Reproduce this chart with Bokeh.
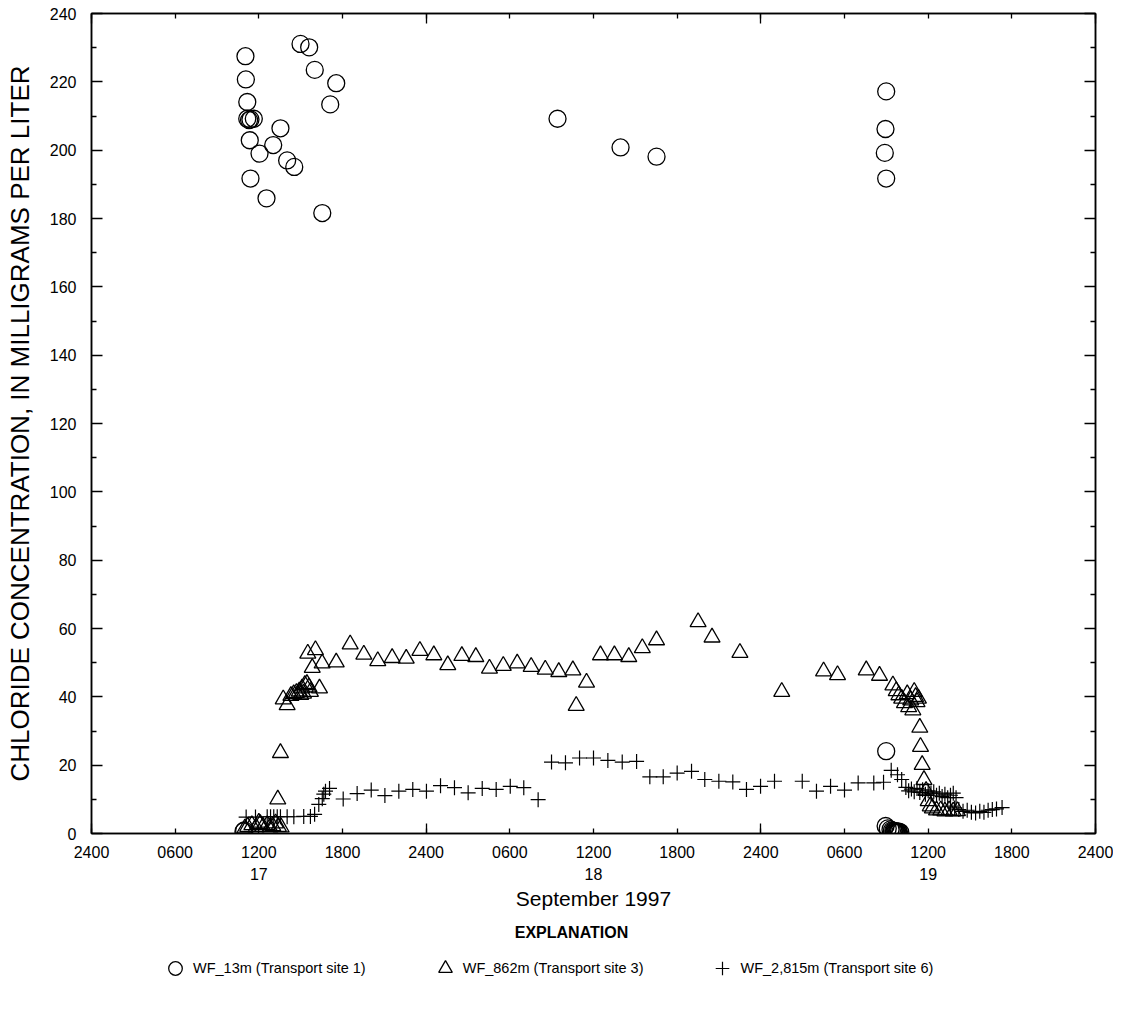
from bokeh.plotting import figure
from bokeh.layouts import column
from bokeh.models import (LinearAxis, FixedTicker, Legend, LegendItem, Label, Range1d,
                          ColumnDataSource)
from bokeh.embed import file_html
from bokeh.resources import INLINE

FONT = "Liberation Sans"

# ---------------- axis definitions ----------------
x_ticks = [0, 6, 12, 18, 24, 30, 36, 42, 48, 54, 60, 66, 72]
x_tick_labels = ["2400", "0600", "1200", "1800", "2400", "0600", "1200",
                 "1800", "2400", "0600", "1200", "1800", "2400"]
midnight_ticks = [0, 24, 48, 72]
day_ticks = [12, 36, 60]
day_labels = ["17", "18", "19"]
y_major = list(range(0, 241, 20))
y_minor = list(range(10, 240, 20))

# ---------------- data (hours after 0000 17 Sept, mg/L) ----------------
site1_hours = [14.99, 15.61, 11.04, 16.01, 11.07, 17.55, 11.17, 17.12, 11.17, 11.30,
               11.40, 11.64, 33.42, 13.55, 11.35, 13.03, 12.05, 14.03, 14.54, 11.40,
               12.55, 16.55, 37.94, 40.52, 56.99, 56.94, 56.89, 56.99, 56.99, 10.90,
               10.95, 56.95, 57.10, 57.30, 57.40, 57.50, 57.55, 57.60, 57.65, 57.70,
               57.75, 57.80, 57.85, 57.90, 58.00]
site1_chloride = [231.1, 230.1, 227.5, 223.5, 220.7, 219.6, 214.1, 213.4, 209.2, 208.8,
                  209.0, 209.2, 209.2, 206.4, 202.9, 201.5, 199.0, 197.0, 195.1, 191.7,
                  185.9, 181.6, 200.8, 198.1, 217.2, 206.2, 199.2, 191.7, 24.1, 0.6,
                  0.9, 2.2, 1.5, 1.2, 0.9, 0.8, 0.6, 0.7, 0.5, 0.6,
                  0.5, 0.4, 0.6, 0.5, 0.4]

site3_hours = [11.0, 11.2, 11.5, 11.8, 12.0, 12.1, 12.3, 12.6, 12.8, 13.0, 13.2, 13.4, 13.6,
               13.36, 13.55, 13.75, 14.03,
               14.3, 14.5, 14.7, 14.9, 15.0, 15.1, 15.2, 15.3, 15.45, 15.6, 15.7,
               15.51, 16.06, 15.83, 16.35, 16.54, 17.55, 18.55, 19.53, 20.53, 21.56,
               22.57, 23.55, 24.55, 25.55, 26.56, 27.56, 28.54, 29.53, 30.53, 31.53,
               32.54, 33.51, 34.52, 34.76, 35.5, 36.5, 37.5, 38.53, 39.5, 40.52,
               43.5, 44.5, 46.5, 49.5, 52.5, 53.5, 55.56, 56.51, 57.47, 57.71,
               57.9, 58.1, 58.3, 58.5, 58.6, 58.75, 58.9, 59.0, 59.1, 59.2, 59.3,
               59.4, 59.45, 59.57, 59.7, 59.85, 60.0, 60.15, 60.3, 60.6, 60.9, 61.2,
               61.5, 61.8, 62.1]
site3_chloride = [1.5, 2.0, 2.5, 1.8, 3.2, 2.8, 2.0, 2.5, 1.8, 2.2, 3.0, 2.0, 1.8,
                  10.0, 23.6, 39.3, 37.6,
                  40.3, 40.8, 41.2, 41.6, 40.6, 42.5, 41.0, 43.5, 43.8, 42.8, 41.5,
                  52.7, 53.7, 48.5, 42.5, 49.8, 50.1, 55.4, 52.4, 50.5, 51.4,
                  51.2, 53.5, 52.2, 49.3, 52.0, 51.7, 48.3, 49.1, 49.8, 48.8,
                  48.0, 47.3, 47.8, 37.4, 44.2, 52.2, 52.2, 51.7, 54.3, 56.6,
                  61.9, 57.4, 52.9, 41.5, 47.5, 46.4, 47.8, 46.2, 43.4, 41.7,
                  40.5, 39.5, 38.2, 40.8, 37.0, 39.0, 36.1, 41.5, 40.0, 38.5, 39.5,
                  31.0, 25.4, 20.1, 15.7, 12.5, 9.5, 8.0, 7.4, 6.8, 6.8, 6.5,
                  6.8, 6.5, 6.6]

site6_hours = [11.09, 11.76, 12.6, 12.84, 13.07, 13.32, 13.55, 14.03, 14.51, 15.22, 15.7,
               16.0, 16.3, 16.55, 16.66, 16.78, 17.07,
               18.05, 19.05, 20.06, 21.04, 22.04, 23.04, 24.02, 25.03, 26.03, 27.01,
               28.02, 29.02, 30.03, 31.0, 32.03, 32.99, 33.99, 35.0, 36.0, 37.03,
               38.06, 39.09, 40.04, 41.0, 42.0, 43.03, 43.98, 44.99, 45.99, 46.97,
               47.98, 48.98, 50.97, 51.99, 53.0, 54.0, 54.98, 56.1, 56.8, 57.35,
               57.8, 58.1,
               58.4, 58.6, 58.8, 59.0, 59.2, 59.4, 59.6, 59.8, 60.0, 60.2, 60.4, 60.6,
               60.8, 61.0, 61.2, 61.4, 61.6, 61.8, 62.0,
               61.6, 61.9, 62.2, 62.5, 62.8, 63.1, 63.4, 63.7, 64.0, 64.3, 64.6, 64.9,
               65.3]
site6_chloride = [4.8, 4.8, 4.9, 4.9, 4.9, 4.9, 4.9, 4.9, 4.9, 5.0, 5.0,
                  5.6, 8.5, 10.2, 11.5, 12.4, 13.2,
                  10.1, 11.7, 12.7, 11.1, 12.4, 12.9, 12.4, 14.0, 13.4, 11.9,
                  13.2, 12.9, 13.8, 13.4, 9.9, 20.9, 20.7, 22.1, 22.1, 21.4,
                  20.9, 21.1, 16.6, 16.6, 17.7, 18.2, 15.8, 15.3, 15.1, 12.9,
                  13.8, 15.3, 15.3, 12.4, 13.8, 12.7, 14.8, 14.8, 15.0, 18.5,
                  17.2, 15.8,
                  13.5, 12.5, 13.0, 12.2, 13.2, 12.0, 12.8, 11.5, 12.5, 11.8, 12.2, 11.2,
                  11.8, 10.8, 11.5, 10.5, 11.2, 11.8, 10.5,
                  8.0, 7.5, 7.0, 6.5, 6.8, 6.2, 6.0, 6.5, 6.2, 6.8, 7.0, 7.2,
                  7.6]

series_labels = ["WF_13m (Transport site 1)", "WF_862m (Transport site 3)",
                 "WF_2,815m (Transport site 6)"]
legend_title = "EXPLANATION"

# ---------------- main figure ----------------
p = figure(width=1113, height=912, x_range=Range1d(0, 72), y_range=Range1d(0, 240),
           output_backend="svg", toolbar_location=None,
           x_axis_type=None, y_axis_type=None,
           min_border_left=91, min_border_right=18, min_border_top=13,
           min_border_bottom=78)
p.outline_line_color = "black"
p.outline_line_width = 1.5
p.background_fill_color = "white"
p.border_fill_color = "white"


def tick_axis(ticker, tick_in=10):
    # axis carrying only tick marks (labels not drawn)
    return LinearAxis(ticker=ticker, major_tick_in=tick_in, major_tick_out=0,
                      minor_tick_in=5, minor_tick_out=0,
                      major_tick_line_width=1.3, minor_tick_line_width=1.3,
                      major_label_text_font_size="1px", major_label_text_color=None,
                      major_label_standoff=0,
                      axis_line_color="black", axis_line_width=1.5)


# bottom ticks (long at midnight, short every 6 hours)
p.add_layout(tick_axis(FixedTicker(ticks=midnight_ticks, minor_ticks=x_ticks)), "below")
# bottom hour labels
hour_axis = LinearAxis(ticker=FixedTicker(ticks=x_ticks, minor_ticks=[]),
                       major_tick_in=0, major_tick_out=0, minor_tick_in=0, minor_tick_out=0,
                       axis_line_color=None,
                       major_label_overrides={t: l for t, l in zip(x_ticks, x_tick_labels)},
                       major_label_standoff=12,
                       major_label_text_font=FONT, major_label_text_font_size="16px",
                       major_label_text_color="black")
p.add_layout(hour_axis, "below")
# day labels + axis title
day_axis = LinearAxis(ticker=FixedTicker(ticks=day_ticks, minor_ticks=[]),
                      major_tick_in=0, major_tick_out=0, minor_tick_in=0, minor_tick_out=0,
                      axis_line_color=None,
                      major_label_overrides={t: l for t, l in zip(day_ticks, day_labels)},
                      major_label_standoff=7,
                      major_label_text_font=FONT, major_label_text_font_size="16px",
                      major_label_text_color="black",
                      axis_label="September 1997", axis_label_standoff=4,
                      axis_label_text_font=FONT, axis_label_text_font_size="21px",
                      axis_label_text_font_style="normal", axis_label_text_color="black")
p.add_layout(day_axis, "below")
# top ticks
p.add_layout(tick_axis(FixedTicker(ticks=midnight_ticks, minor_ticks=x_ticks)), "above")

# y axes
left_axis = LinearAxis(ticker=FixedTicker(ticks=y_major, minor_ticks=y_minor),
                       major_tick_in=11, major_tick_out=0, minor_tick_in=5, minor_tick_out=0,
                       major_tick_line_width=1.3, minor_tick_line_width=1.3,
                       axis_line_color="black", axis_line_width=1.5,
                       major_label_standoff=15,
                       major_label_text_font=FONT, major_label_text_font_size="16px",
                       major_label_text_color="black",
                       axis_label="CHLORIDE CONCENTRATION, IN MILLIGRAMS PER LITER",
                       axis_label_standoff=12,
                       axis_label_text_font=FONT, axis_label_text_font_size="26px",
                       axis_label_text_font_style="normal", axis_label_text_color="black")
p.add_layout(left_axis, "left")
p.add_layout(tick_axis(FixedTicker(ticks=y_major, minor_ticks=y_minor), tick_in=11), "right")

# ---------------- data glyphs ----------------
s1 = ColumnDataSource(dict(x=site1_hours, y=site1_chloride))
s3 = ColumnDataSource(dict(x=site3_hours, y=site3_chloride))
s6 = ColumnDataSource(dict(x=site6_hours, y=site6_chloride))
sources = [s1, s3, s6]

marker_styles = [dict(marker="circle", size=17, line_width=1.3),
                 dict(marker="triangle", size=16, line_width=1.3),
                 dict(marker="cross", size=15, line_width=1.2)]

for src, st in zip(sources, marker_styles):
    p.scatter("x", "y", source=src, fill_color=None, line_color="black", **st)

# ---------------- explanation strip below the chart ----------------
q = figure(width=1113, height=90, x_range=Range1d(0, 72), y_range=Range1d(0, 240),
           output_backend="svg", toolbar_location=None,
           x_axis_type=None, y_axis_type=None,
           min_border_left=91, min_border_right=18, min_border_top=0,
           min_border_bottom=0)
q.outline_line_color = None
q.background_fill_color = "white"
q.border_fill_color = "white"

items = []
for lab, src, st in zip(series_labels, sources, marker_styles):
    # hidden proxies sharing the series' data, only used for the legend glyphs
    r = q.scatter("x", "y", source=src, fill_color=None, line_color="black",
                  visible=False, **st)
    items.append(LegendItem(label=lab, renderers=[r]))

legend = Legend(items=items, orientation="horizontal", location=(67, 17),
                glyph_width=34, glyph_height=34, label_standoff=1, spacing=62,
                label_text_font=FONT, label_text_font_size="14.5px",
                label_text_color="black", border_line_color=None,
                background_fill_alpha=0, padding=0, margin=0,
                inactive_fill_alpha=0)
q.add_layout(legend, "center")
q.add_layout(Label(x=480, y=70, x_units="screen", y_units="screen", text=legend_title,
                   text_align="center", text_baseline="middle", text_font=FONT,
                   text_font_size="16px", text_font_style="bold", text_color="black"))

open("out.html", "w").write(file_html(column(p, q), INLINE))
